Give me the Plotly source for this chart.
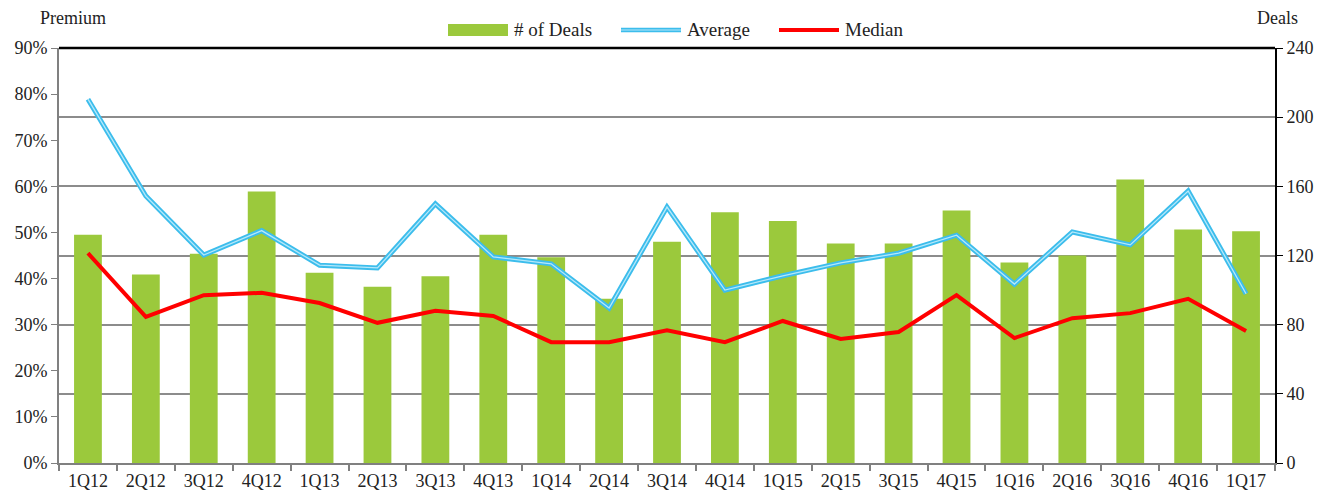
import plotly.graph_objects as go

quarters = ["1Q12", "2Q12", "3Q12", "4Q12", "1Q13", "2Q13", "3Q13", "4Q13",
            "1Q14", "2Q14", "3Q14", "4Q14", "1Q15", "2Q15", "3Q15", "4Q15",
            "1Q16", "2Q16", "3Q16", "4Q16", "1Q17"]
deals = [132, 109, 121, 157, 110, 102, 108, 132, 119, 95, 128, 145, 140, 127,
         127, 146, 116, 120, 164, 135, 134]
average = [78.9, 57.9, 45.1, 50.4, 42.9, 42.3, 56.2, 44.7, 43.2, 33.6, 55.5,
           37.5, 40.6, 43.4, 45.5, 49.4, 38.8, 50.1, 47.3, 59.0, 36.7]
median = [45.5, 31.7, 36.4, 36.9, 34.7, 30.4, 33.0, 31.9, 26.2, 26.2, 28.8,
          26.2, 30.8, 26.9, 28.4, 36.4, 27.1, 31.4, 32.5, 35.6, 28.6]
legend_names = ["# of Deals", "Average", "Median"]

GREEN = "#9BC93C"
BLUE = "#3CBDEC"
BLUE_IN = "#B5E8FA"
RED = "#FF0000"
FONT = "Liberation Serif"
TXT = "#222222"

W, H = 1325, 495
ML, MR, MT, MB = 59, 50, 48, 32
PW, PH = W - ML - MR, H - MT - MB


def px(x):
    return (x - ML) / PW


def py(y):
    return (H - MB - y) / PH


fig = go.Figure()
fig.add_trace(go.Bar(x=quarters, y=deals, marker_color=GREEN, marker_line_width=0,
                     yaxis="y", showlegend=False, name=legend_names[0]))
fig.add_trace(go.Scatter(x=quarters, y=average, mode="lines", name=legend_names[1],
                         line=dict(color=BLUE, width=5), yaxis="y2", showlegend=False))
fig.add_trace(go.Scatter(x=quarters, y=average, mode="lines", showlegend=False,
                         line=dict(color=BLUE_IN, width=1.3), yaxis="y2",
                         hoverinfo="skip"))
fig.add_trace(go.Scatter(x=quarters, y=median, mode="lines", name=legend_names[2],
                         line=dict(color=RED, width=4), yaxis="y2", showlegend=False))

# custom legend (wide symbols as in the reference)
shapes = [dict(type="line", xref="paper", yref="paper", x0=0, x1=1, y0=1, y1=1,
               line=dict(color="black", width=2.5))]
shapes.append(dict(type="rect", xref="paper", yref="paper",
                   x0=px(448), x1=px(508), y0=py(36), y1=py(24),
                   fillcolor=GREEN, line=dict(width=0)))
shapes.append(dict(type="line", xref="paper", yref="paper",
                   x0=px(621), x1=px(681), y0=py(30), y1=py(30),
                   line=dict(color=BLUE, width=4.5)))
shapes.append(dict(type="line", xref="paper", yref="paper",
                   x0=px(621), x1=px(681), y0=py(30), y1=py(30),
                   line=dict(color=BLUE_IN, width=1.2)))
shapes.append(dict(type="line", xref="paper", yref="paper",
                   x0=px(779), x1=px(839), y0=py(30), y1=py(30),
                   line=dict(color=RED, width=4)))

annotations = [
    dict(text="Premium", xref="paper", yref="paper", x=px(38), y=py(18),
         xanchor="left", yanchor="middle", showarrow=False,
         font=dict(size=18, family=FONT, color=TXT)),
    dict(text="Deals", xref="paper", yref="paper", x=px(1255), y=py(18),
         xanchor="left", yanchor="middle", showarrow=False,
         font=dict(size=18, family=FONT, color=TXT)),
]
for name, x0 in zip(legend_names, [512, 685, 843]):
    annotations.append(dict(text=name, xref="paper", yref="paper", x=px(x0), y=py(30),
                            xanchor="left", yanchor="middle", showarrow=False,
                            font=dict(size=19, family=FONT, color=TXT)))

fig.update_layout(
    width=W, height=H,
    margin=dict(l=ML, r=MR, t=MT, b=MB, autoexpand=False),
    plot_bgcolor="white", paper_bgcolor="white",
    font=dict(family=FONT, size=18, color=TXT),
    bargap=0.52,
    showlegend=False,
    xaxis=dict(type="category", range=[-0.5, 20.5], tickson="boundaries",
               ticks="outside", ticklen=6, tickcolor="#808080", tickwidth=2,
               showline=True, linecolor="#808080", linewidth=2,
               showgrid=False, automargin=False,
               tickfont=dict(size=18, family=FONT, color=TXT)),
    yaxis=dict(side="right", range=[0, 240], dtick=40, showgrid=True,
               gridcolor="#8C8C8C", gridwidth=2, zeroline=False,
               showline=True, linecolor="black", linewidth=2,
               ticks="outside", ticklen=6, tickcolor="black", automargin=False,
               tickfont=dict(size=18, family=FONT, color=TXT)),
    yaxis2=dict(side="left", overlaying="y", range=[0, 90], dtick=10,
                ticksuffix="%", showgrid=False, zeroline=False,
                showline=True, linecolor="#808080", linewidth=2,
                ticks="outside", ticklen=6, tickcolor="#808080", automargin=False,
                tickfont=dict(size=18, family=FONT, color=TXT)),
    shapes=shapes,
    annotations=annotations,
)

fig.write_html("out.html")
